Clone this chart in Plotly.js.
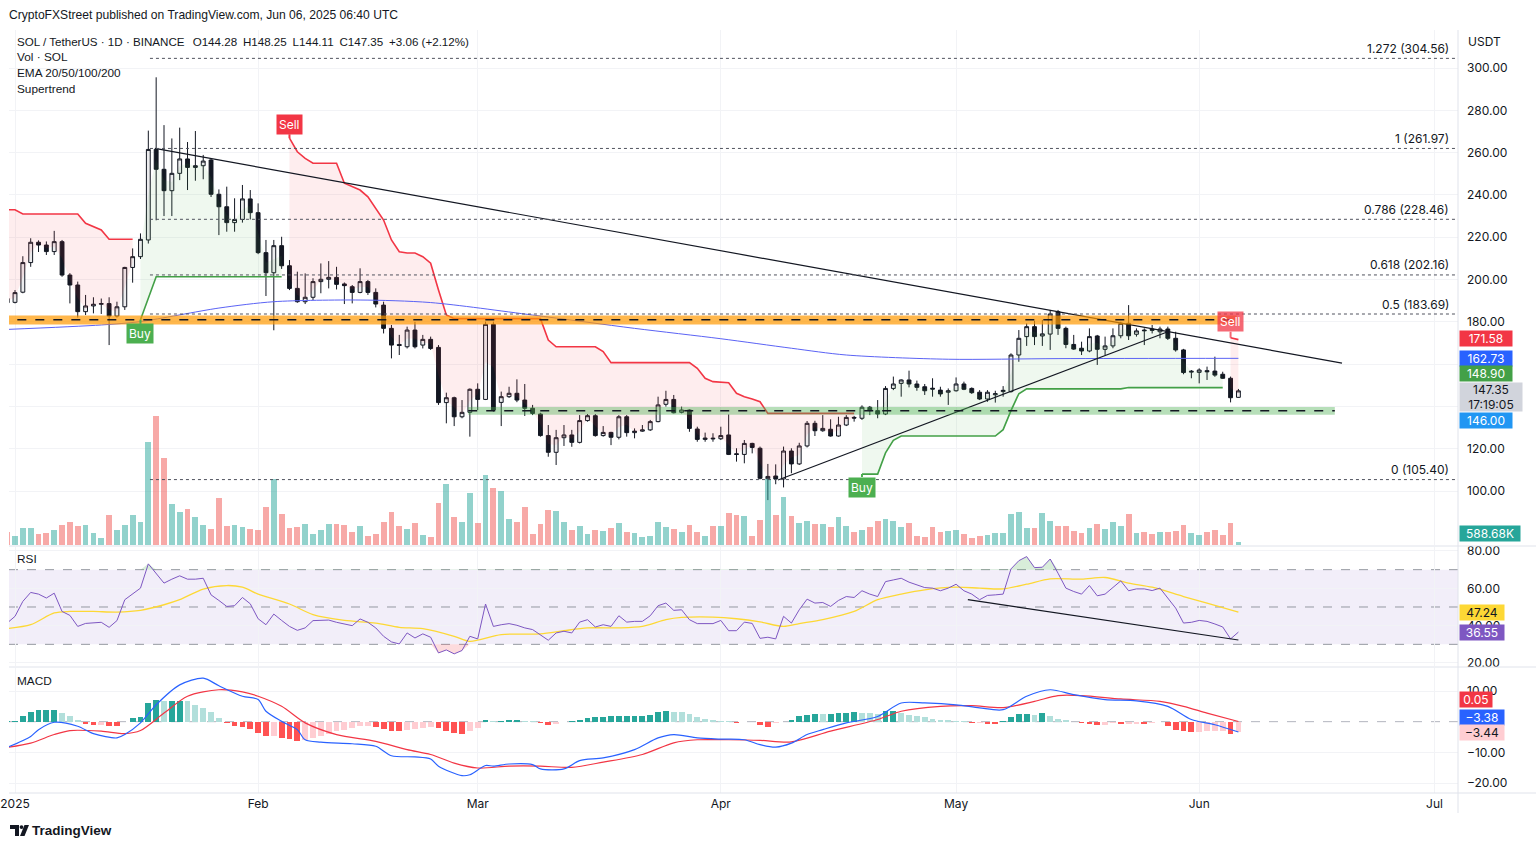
<!DOCTYPE html>
<html><head><meta charset="utf-8">
<script src="https://cdn.plot.ly/plotly-3.0.1.min.js"></script>
<style>html,body{margin:0;padding:0;background:#fff;}#chart{width:1536px;height:847px;}</style>
</head><body><div id="chart"></div>
<script>
const _ = null;
const startDate = '2024-12-31';
const openP = [191,189.2,194,208,217.6,216.3,213.2,217.9,202.1,197.4,
184.8,187.5,188.3,188.6,182.7,187.1,205.7,210.8,218.7,261.5,
252.1,242,250.2,257,253,253.8,256.5,240.3,234.4,226.9,
228.4,238.1,231.6,212.7,203.2,216,206.5,195.8,189.5,191.6,
199,200.1,201,197.9,196.6,193.9,199,193.9,187.9,176.9,
169.3,168.2,176.1,169,171.7,167.9,141.8,144.1,135.1,137.2,
148.1,143.3,178.8,141.9,144.6,146.2,143,139.1,136.4,126.2,
118.3,125.2,126.5,123,133.3,135.6,126.2,127.7,125.4,135.1,
127.6,128.3,128.9,132.8,141,143.3,137.2,138.3,129.3,124.4,
125,124.7,126.5,117.6,117.3,122.5,120.2,105.8,107.1,105.7,
118.9,112.8,121.3,132,128.5,129.2,126,131.2,134.8,134.4,
139.6,138,136.4,148.5,150.9,152.5,150.6,149.3,148.6,147.7,
146.7,147.4,150.6,148.5,146.7,143.5,145.5,147,147,164.3,
173,177.7,173.3,174.2,184.8,176.9,169.3,167.5,166.2,173.3,
167,168.6,173.4,179.3,174.1,176.1,176.6,175.3,176.6,172.2,
166.7,156.2,156.1,156.9,156.7,155.2,153.3,144.28];
const highP = [192.5,195,211,219.5,218.5,218,223,218.7,203,199,
192.7,191.6,191,191.6,189.5,206,214.7,221.8,270.4,295.6,
273,266.7,271.8,265,270.2,258.9,257.3,242.6,243.9,238.4,
244.7,242.3,236,218.7,218.7,220.2,209.2,203.7,202.9,200.6,
207.6,208.7,206,198.6,197.4,205.3,199.8,195.8,189.5,178.5,
173.8,177.7,180,173.8,173,169,146.5,144.6,143,148.5,
150.9,180.1,180.1,147,149.3,152.8,150.6,140.7,137,131.2,
128.9,131.2,128.9,135.9,136.4,136.4,130.7,128,135.9,135.9,
129.6,131.2,133.6,144.6,147.4,145.4,139.9,138.6,130.4,127.6,
127.3,130.4,136.2,120.2,124.1,122.8,121,112.8,112.6,121,
120.2,122.8,133.1,133.2,135.9,133.9,135.1,135.9,135.5,140.5,
140.2,143,149.6,154.1,152.8,156.9,152.2,150.6,153.3,149.3,
148.5,153.7,151.7,149,147.7,147.7,147.4,149.6,165.1,176.1,
179.3,180.5,180.9,185.6,185.6,177.7,173.8,170.6,176.9,173.8,
173,176.9,180,187.9,176.9,176.9,178.5,177.7,177.7,175.3,
167.2,157.2,158,158.8,163.5,156.4,154.1,148.25];
const lowP = [188,188.7,193.5,206,213,211.6,211.6,201.3,188.7,182,
183.2,184,183.7,169,182,185.6,198.5,209.7,217,228,
230,230,247,242.3,246.7,247.4,239,221,222.6,222.6,
226.9,228.4,212,192.2,176,205,195,189,188.4,190.3,
193.5,195.8,195.3,188.4,188.7,193.5,192.7,186.8,174.5,162.7,
164.3,167.4,167.4,167.4,166.7,140.7,132,130.7,134.4,125.7,
138.3,143,137.5,130.7,144,142,135.5,135.9,125.7,116.2,
112.3,121.3,120.9,122.5,132.8,125.7,125.7,121.7,124.4,125.7,
124.9,128,128.4,132.5,139.9,136.7,136.7,128,123.3,123.3,
123.3,124.1,117,113.9,113.1,117.8,105.5,95.7,103.2,101.7,
108.4,112.3,120.6,126,128,125.7,125.7,130.7,132.8,133.6,
135.9,134.4,135.9,147.7,144.6,149,147.4,145.4,144.6,144.6,
140.7,147,147.7,145.9,143,142.2,141.8,144.6,146.5,161.1,
168.6,169,168.6,166.7,173.8,167.5,166.7,164.3,165.6,159.6,
164.3,167.5,172.2,171.4,173,169,174.5,172.2,171.4,165.9,
155.2,153.3,150.9,152.5,154,153,141.9,144.11];
const closeP = [189,193.8,208,217.6,216.3,213.2,217.9,202.1,197.4,184.8,
187.5,188.3,188.6,182.7,187.1,205.7,210.8,219,261.5,252.1,
242,250.2,257,253,253.8,256,240.3,234.4,226.9,228.4,
238.1,231.6,212.7,203.2,216,206.5,195.8,189.5,191.6,199,
200.1,201,197.7,197.1,193.9,199,193.9,188.4,176.9,169,
168.8,176.1,168.2,171.7,167.4,141.8,144.1,135.1,137.2,148.1,
143.3,178.8,138.3,144.6,146.2,143,139.1,136.7,126.2,118.3,
125.2,126.5,123,133.3,135.6,126.2,127.7,125.4,135.1,127.6,
128.3,128.9,132.8,140.7,143.3,137,138.3,129.6,124.4,125,
124.7,126.2,117.3,117.3,122.5,120.6,106,106.9,105.7,118.9,
112.8,121.3,132,128.5,129.6,126,131.2,134.8,134.5,139.6,
138,136.4,148.5,150.6,152.5,150.6,149,147.4,148.2,145.9,
147.4,150.6,148.1,146.5,143.5,146.7,146,147.6,164.3,172.2,
177.7,173,174.3,183.7,176.9,169.3,167.1,166.2,173,167,
168.6,173.4,179.3,173.4,175.7,175.8,176,176.6,172.2,166.7,
156,156.6,157.2,156.4,154.8,153.3,144.1,147.35];
// volume in millions of SOL
const volumeM = [2.37,1.66,3.08,3.08,1.90,2.08,2.72,3.56,4.15,3.44,
3.51,2.19,1.30,5.34,2.67,3.56,5.34,4.15,18.39,23.02,
15.54,7.35,5.82,6.35,4.93,3.51,2.90,8.31,3.33,3.61,
3.15,2.85,2.72,6.76,11.75,5.57,2.97,3.20,3.74,1.90,
2.67,3.79,3.74,3.61,2.31,3.44,1.66,1.96,4.09,5.93,
3.33,2.85,3.92,1.78,1.48,7.48,10.91,4.98,4.09,9.31,
3.92,12.41,10.20,9.61,4.63,4.15,6.76,2.01,3.68,6.23,
6.05,4.15,2.72,3.38,1.90,2.67,2.55,3.08,3.92,2.37,
2.19,1.37,1.66,4.15,3.26,2.85,2.26,3.61,2.37,1.66,
3.44,3.33,5.75,5.39,5.22,1.66,4.50,11.75,5.34,8.49,
5.11,3.97,4.22,3.74,3.79,3.15,4.93,3.44,2.37,2.62,
3.20,4.27,4.63,4.33,3.20,3.86,1.66,1.42,3.26,2.26,
2.55,2.72,2.01,1.25,1.55,1.83,2.19,2.19,5.57,5.82,
3.03,2.97,5.75,4.22,3.33,3.33,2.49,2.08,2.97,3.74,
2.85,4.04,3.33,5.57,2.08,2.26,2.01,2.37,2.37,2.44,
3.51,2.19,1.83,2.26,2.62,1.83,3.86,0.59];
const stUp = [_,_,_,_,_,_,_,_,_,_,_,_,_,_,_,_,_,181,191,
201.3,201.3,201.3,201.3,201.3,201.3,201.3,201.3,201.3,201.3,201.3,201.3,201.3,201.3,201.3,201.3,201.3,
_,_,_,_,_,_,_,_,_,_,_,_,_,_,_,_,_,_,_,_,_,_,_,_,_,_,_,_,_,_,_,_,_,_,_,_,_,_,_,_,_,_,_,_,_,_,_,_,_,_,_,_,_,_,_,_,_,_,_,_,_,_,_,_,_,_,_,_,_,_,_,_,_,
108,108,108,118,124,
126,126,126,126,126,126,126,126,126,126,126,126,126,
129,138,146,
148.3,148.3,148.3,148.3,148.3,148.3,148.3,148.3,148.3,148.3,148.3,148.3,148.3,
148.9,148.9,148.9,148.9,148.9,148.9,148.9,148.9,148.9,148.9,148.9,148.9,148.9,
_,_];
const stDown = [233,233,231,231,231,231,231,231,231,231,226.6,225,223.4,219,219,219,219,
_,_,_,_,_,_,_,_,_,_,_,_,_,_,_,_,_,_,_,
266.8,260.4,257.3,255,255,255,255,245.5,244,242.3,239.1,233.5,228.1,218.7,213.1,212.5,212.5,210.8,207.7,195,183.2,
181.5,181.5,181.5,181.5,181.5,181.5,181.5,181.5,181.5,181.5,181.5,181.5,
171.4,168.2,168.2,168.2,168.2,168.2,168.2,165.9,
160.7,160.7,160.7,160.7,160.7,160.7,160.7,160.7,160.7,160.7,160.7,
158,153.3,151.7,151.5,151.2,146.2,144.6,143.5,142.2,
136.7,136.7,136.7,136.7,136.7,136.7,136.7,136.7,136.7,136.7,136.7,136.7,
_,_,_,_,_,_,_,_,_,_,_,_,_,_,_,_,_,_,_,_,_,_,_,_,_,_,_,_,_,_,_,_,_,_,_,_,_,_,_,_,_,_,_,_,_,_,_,
172.5,171.58];
const emaDates = ['2024-12-31','2025-01-12','2025-01-17','2025-01-27','2025-02-03','2025-02-14','2025-02-23','2025-03-08','2025-03-21','2025-04-01','2025-04-10','2025-04-17','2025-04-30','2025-05-14','2025-06-06'];
const emaValues = [176.4,178.5,180.1,186.5,189.5,190.3,189.1,183.2,176.9,172.0,167.5,164.3,162.3,162.6,162.73];
const fibRatios = ['1.272','1','0.786','0.618','0.5','0'];
const fibPrices = [304.56,261.97,228.46,202.16,183.69,105.40];
const fibStart = '2025-01-18 05:00';
const resistZone = [178.7,183.0,181.0];   // low, high, dashed mid
const resistSpan = ['2024-12-30','2025-06-05 19:00'];
const supportZone = [136.0,139.7,137.9];
const supportSpan = ['2025-02-27 19:00','2025-06-18 07:00'];
const downTrendDates = ['2025-01-18 20:00','2025-06-19 05:00'];
const downTrendPrices = [262,160.5];
const upTrendDates = ['2025-04-08 07:00','2025-05-27 22:00'];
const upTrendPrices = [105.2,175.2];
const rsi = [41.4,45,53,57.8,56.9,54.8,57.4,47.6,45.5,39.6,
41.2,41.6,41.8,39.1,42.7,53.9,56.9,60.1,73.1,68.1,
62.8,64.9,66.7,64.9,64.9,65.4,56.5,53.5,50.3,50.7,
55.1,51.7,43.7,40.5,46.2,42.8,39.6,37.5,38.8,42.7,
43,43,41.8,41.1,40,43.6,41.8,38.8,34.3,31.3,
30.2,36.1,33.4,35.6,33.8,25.4,27,24.9,26.7,34.3,
32.9,51.6,39.6,40.5,41.1,40.2,38.8,37.9,35.2,32.2,
36.1,37,36.1,41.9,43.2,39.3,40.5,39.6,45.3,41.9,
42.3,42.3,45.3,50.7,52.1,48.2,48.5,43.2,41.1,41.1,
41.1,42.8,37.3,37.3,41.9,41.2,33.2,33.8,32.9,45,
41.4,48.5,54.2,52.1,52.4,50.3,53.5,55.6,55.1,58.7,
56.9,55.6,63.6,64.5,65.4,63.3,61.9,60.4,60.1,58.7,
60.1,62.2,58.7,56.9,53.9,56.2,56.5,56.9,70.4,74.8,
77,71.1,71.3,75.7,68.1,60.1,58.3,56.9,61.5,56,
56.9,60.4,64,58.7,59.7,59.7,58.8,60.1,54.8,49.4,
41.4,41.8,42.8,42.3,40.9,39.3,32.9,36.55];
const rsiMaDates = ['2024-12-31','2025-01-03','2025-01-06','2025-01-08','2025-01-11','2025-01-14','2025-01-17','2025-01-20','2025-01-22','2025-01-25','2025-01-28','2025-01-30','2025-02-01','2025-02-05','2025-02-08','2025-02-12','2025-02-16','2025-02-19','2025-02-22','2025-02-26','2025-02-28','2025-03-04','2025-03-09','2025-03-12','2025-03-15','2025-03-19','2025-03-22','2025-03-25','2025-03-27','2025-03-31','2025-04-03','2025-04-06','2025-04-09','2025-04-11','2025-04-14','2025-04-18','2025-04-21','2025-04-24','2025-04-27','2025-05-01','2025-05-04','2025-05-07','2025-05-10','2025-05-13','2025-05-17','2025-05-20','2025-05-23','2025-05-26','2025-05-30','2025-06-02','2025-06-06'];
const rsiMaValues = [38.4,40.5,46.8,47.6,47.6,47.3,48.2,51.2,53.9,59.6,61.5,60.6,56.9,51.6,45.9,42.8,41.4,39.1,38.4,34.3,31.6,35.2,35.6,37.3,38.8,38.8,39.6,43.2,44.4,44.6,43.7,42.0,39.6,41.1,43.2,47.6,53.9,56.9,59.2,60.6,60.1,59.7,62.2,65.1,64.9,65.8,62.8,60.6,55.6,52.1,47.24];
const rsiTrendDates = ['2025-05-02 12:00','2025-06-06 00:00'];
const rsiTrendValues = [53.9,32.3];
const macdDates = ['2024-12-31','2025-01-03','2025-01-04','2025-01-06','2025-01-09','2025-01-11','2025-01-14','2025-01-15','2025-01-17','2025-01-19','2025-01-22','2025-01-25','2025-01-27','2025-01-30','2025-02-01','2025-02-02','2025-02-04','2025-02-06','2025-02-07','2025-02-09','2025-02-13','2025-02-16','2025-02-18','2025-02-21','2025-02-23','2025-02-24','2025-02-27','2025-02-28','2025-03-02','2025-03-03','2025-03-05','2025-03-08','2025-03-09','2025-03-12','2025-03-14','2025-03-17','2025-03-21','2025-03-24','2025-03-26','2025-03-29','2025-04-01','2025-04-04','2025-04-06','2025-04-08','2025-04-10','2025-04-12','2025-04-14','2025-04-17','2025-04-21','2025-04-24','2025-04-27','2025-05-01','2025-05-04','2025-05-07','2025-05-10','2025-05-13','2025-05-16','2025-05-20','2025-05-24','2025-05-28','2025-05-31','2025-06-03','2025-06-06'];
const macdValues = [-8.4,-4.8,-2.6,-0.2,-1.5,-3.9,-5.3,-4.2,-0.4,5.5,12.0,14.2,11.7,8.3,7.2,3.4,0.1,-2.6,-5.9,-6.7,-7.2,-8.0,-11.1,-11.5,-12.2,-14.5,-17.6,-17.3,-14.3,-14.5,-13.8,-14.0,-15.4,-15.4,-12.7,-11.8,-9.1,-5.3,-4.2,-5.3,-5.7,-5.9,-7.5,-8.3,-7.0,-4.2,-2.6,-0.4,1.7,6.1,6.1,5.5,4.5,3.9,8.3,10.4,8.8,7.2,6.8,5.0,0.7,-1.0,-3.38];
const signalDates = ['2024-12-31','2025-01-03','2025-01-06','2025-01-08','2025-01-12','2025-01-15','2025-01-17','2025-01-20','2025-01-23','2025-01-27','2025-01-30','2025-02-01','2025-02-04','2025-02-07','2025-02-11','2025-02-16','2025-02-20','2025-02-23','2025-02-26','2025-03-01','2025-03-05','2025-03-09','2025-03-13','2025-03-17','2025-03-22','2025-03-26','2025-03-29','2025-04-02','2025-04-06','2025-04-10','2025-04-15','2025-04-21','2025-04-24','2025-04-29','2025-05-03','2025-05-07','2025-05-11','2025-05-14','2025-05-17','2025-05-22','2025-05-27','2025-05-30','2025-06-02','2025-06-06'];
const signalValues = [-8.4,-7.0,-4.2,-2.9,-3.1,-3.9,-2.9,2.8,8.3,10.4,9.7,8.3,5.0,-0.4,-4.2,-6.4,-9.1,-10.7,-13.5,-15.1,-14.5,-14.5,-14.9,-13.2,-10.7,-6.9,-5.9,-5.9,-6.1,-6.6,-3.1,0.7,3.4,5.0,5.2,4.6,6.6,8.5,8.5,7.4,6.6,5.0,2.8,0.05];
const macdHist = [0.1,0.3,1.7,3.0,3.7,3.9,3.9,2.8,1.7,0.4,
-0.7,-1.1,-1.1,-1.3,-1.5,-0.1,1.2,1.5,6.1,7.2,
6.9,6.9,6.9,6.6,5.5,4.5,3.0,1.2,-0.4,-1.5,
-1.7,-2.4,-3.7,-4.8,-4.8,-5.3,-5.6,-6.4,-6.1,-5.3,
-4.6,-3.9,-3.1,-2.6,-2.1,-1.5,-1.5,-1.7,-2.4,-2.9,
-3.1,-2.6,-2.4,-2.1,-1.8,-2.1,-3.1,-3.7,-3.9,-3.1,
-2.1,0.7,0.1,0.3,0.7,0.7,0.3,0.1,-0.4,-1.0,
-0.7,-0.2,0.1,0.7,1.2,1.4,1.4,1.7,2.0,2.0,
2.0,2.0,2.3,3.0,3.6,3.1,3.0,2.5,1.5,1.0,
0.7,0.3,0.1,-0.4,-0.2,-0.2,-1.0,-1.7,-0.4,-0.2,
0.7,1.7,2.3,2.5,2.4,2.6,2.8,2.8,3.0,2.9,
2.7,2.6,3.4,3.4,2.8,2.3,1.7,1.4,0.9,0.7,
0.4,0.2,0.1,-0.4,-0.4,-0.7,-0.8,0.1,1.4,2.5,
2.5,2.3,2.8,1.7,0.9,0.4,-0.2,-0.4,-0.7,-1.0,
-1.0,-0.4,-0.7,-0.7,-0.7,-0.8,-0.4,-0.2,-1.3,-2.6,
-3.1,-3.5,-3.5,-3.2,-3.1,-3.0,-3.9,-3.44];
const priceTicks = [100,120,140,160,180,200,220,240,260,280,300];
const hiddenPriceTicks = [140,160];   // covered by the price tags in the reference
const rsiTicks = [20,40,60,80];
const macdTicks = [-20,-10,10];
const monthTicks = ['2025-01-01','2025-02-01','2025-03-01','2025-04-01','2025-05-01','2025-06-01','2025-07-01'];
const monthLabels = ['2025','Feb','Mar','Apr','May','Jun','Jul'];

// ---------- build ----------
function dateAt(i){const d=new Date(Date.UTC(2024,11,31));d.setUTCDate(d.getUTCDate()+i);return d.toISOString().slice(0,10);}
const dates = openP.map((v,i)=>dateAt(i));
const bodyMid = openP.map((o,i)=>(o+closeP[i])/2);
const upDay = closeP.map((c,i)=>c>=openP[i]);
const FONT = 'Inter, "Noto Sans", Roboto, sans-serif';
const TFONT = '"Liberation Sans", Arial, sans-serif';
const INK = '#131722';
const traces = [];

function segments(arr){const segs=[];let cur=null;arr.forEach((v,i)=>{if(v===null){cur=null;}else{if(!cur){cur=[];segs.push(cur);}cur.push(i);}});return segs;}
function stTraces(arr,lineColor,fillColor){
  segments(arr).forEach(seg=>{
    traces.push({type:'scatter',mode:'lines',x:seg.map(i=>dates[i]),y:seg.map(i=>bodyMid[i]),line:{width:0},hoverinfo:'skip',xaxis:'x',yaxis:'y'});
    traces.push({type:'scatter',mode:'lines',x:seg.map(i=>dates[i]),y:seg.map(i=>arr[i]),line:{color:lineColor,width:1.6},fill:'tonexty',fillcolor:fillColor,hoverinfo:'skip',xaxis:'x',yaxis:'y'});
  });
}
stTraces(stDown,'#f23645','rgba(242,54,69,0.09)');
stTraces(stUp,'#43a047','rgba(76,175,80,0.09)');

traces.push({type:'candlestick',x:dates,open:openP,high:highP,low:lowP,close:closeP,xaxis:'x',yaxis:'y',
  increasing:{line:{color:INK,width:1},fillcolor:'#ececee'},
  decreasing:{line:{color:INK,width:1},fillcolor:INK},whiskerwidth:0,hoverinfo:'skip'});

traces.push({type:'scatter',mode:'lines',x:emaDates,y:emaValues,line:{color:'#5b63f5',width:1,shape:'spline',smoothing:0.8},xaxis:'x',yaxis:'y',hoverinfo:'skip'});
traces.push({type:'scatter',mode:'lines',x:downTrendDates,y:downTrendPrices,line:{color:INK,width:1.2},xaxis:'x',yaxis:'y',hoverinfo:'skip'});
traces.push({type:'scatter',mode:'lines',x:upTrendDates,y:upTrendPrices,line:{color:INK,width:1.2},xaxis:'x',yaxis:'y',hoverinfo:'skip'});

traces.push({type:'bar',x:dates,y:volumeM,xaxis:'x',yaxis:'y4',width:0.74*86400000,
  marker:{color:upDay.map(u=>u?'rgba(38,166,154,0.5)':'rgba(239,83,80,0.5)'),line:{width:0}},hoverinfo:'skip'});

// RSI
traces.push({type:'scatter',mode:'lines',x:dates,y:rsi.map(()=>70),line:{width:0},xaxis:'x',yaxis:'y2',hoverinfo:'skip'});
traces.push({type:'scatter',mode:'lines',x:dates,y:rsi.map(v=>Math.max(v,70)),line:{width:0},fill:'tonexty',fillcolor:'rgba(76,175,80,0.22)',xaxis:'x',yaxis:'y2',hoverinfo:'skip'});
traces.push({type:'scatter',mode:'lines',x:dates,y:rsi.map(()=>30),line:{width:0},xaxis:'x',yaxis:'y2',hoverinfo:'skip'});
traces.push({type:'scatter',mode:'lines',x:dates,y:rsi.map(v=>Math.min(v,30)),line:{width:0},fill:'tonexty',fillcolor:'rgba(242,54,69,0.18)',xaxis:'x',yaxis:'y2',hoverinfo:'skip'});
traces.push({type:'scatter',mode:'lines',x:rsiMaDates,y:rsiMaValues,line:{color:'#fdd835',width:1.3,shape:'spline',smoothing:0.8},xaxis:'x',yaxis:'y2',hoverinfo:'skip'});
traces.push({type:'scatter',mode:'lines',x:dates,y:rsi,line:{color:'#7e57c2',width:1},xaxis:'x',yaxis:'y2',hoverinfo:'skip'});
traces.push({type:'scatter',mode:'lines',x:rsiTrendDates,y:rsiTrendValues,line:{color:INK,width:1.2},xaxis:'x',yaxis:'y2',hoverinfo:'skip'});

// MACD
const histColors = macdHist.map((v,i)=>{const p=i>0?macdHist[i-1]:v;return v>=0?(v>=p?'#26a69a':'#b2dfdb'):(v<p?'#ff5252':'#ffcdd2');});
traces.push({type:'bar',x:dates,y:macdHist,xaxis:'x',yaxis:'y3',width:0.74*86400000,marker:{color:histColors,line:{width:0}},hoverinfo:'skip'});
traces.push({type:'scatter',mode:'lines',x:signalDates,y:signalValues,line:{color:'#f23645',width:1.2,shape:'spline',smoothing:0.8},xaxis:'x',yaxis:'y3',hoverinfo:'skip'});
traces.push({type:'scatter',mode:'lines',x:macdDates,y:macdValues,line:{color:'#2962ff',width:1.2,shape:'spline',smoothing:0.8},xaxis:'x',yaxis:'y3',hoverinfo:'skip'});

// ---------- layout helpers ----------
const PL=9,PT=30,PW=1449,PH=763;
const px=x=>(x-PL)/PW, py=y=>(PT+PH-y)/PH;
const shapes=[];
const anns=[];
// zones
shapes.push({type:'rect',xref:'x',yref:'y',x0:resistSpan[0],x1:resistSpan[1],y0:resistZone[0],y1:resistZone[1],fillcolor:'rgba(255,152,0,0.7)',line:{width:0},layer:'above'});
shapes.push({type:'line',xref:'x',yref:'y',x0:resistSpan[0],x1:resistSpan[1],y0:resistZone[2],y1:resistZone[2],line:{color:INK,width:1.5,dash:'dash'},layer:'above'});
shapes.push({type:'rect',xref:'x',yref:'y',x0:supportSpan[0],x1:supportSpan[1],y0:supportZone[0],y1:supportZone[1],fillcolor:'rgba(76,175,80,0.4)',line:{width:0},layer:'above'});
shapes.push({type:'line',xref:'x',yref:'y',x0:supportSpan[0],x1:supportSpan[1],y0:supportZone[2],y1:supportZone[2],line:{color:INK,width:1.5,dash:'dash'},layer:'above'});
// fib levels
fibPrices.forEach((p,i)=>{
  shapes.push({type:'line',xref:'x',yref:'y',x0:fibStart,x1:'2025-07-10',y0:p,y1:p,line:{color:'#50535e',width:1,dash:'dot'},layer:'above'});
  anns.push({xref:'paper',yref:'y',x:px(1451),y:p,yshift:10,xanchor:'right',yanchor:'middle',showarrow:false,text:fibRatios[i]+' ('+p.toFixed(2)+')',font:{family:FONT,size:12,color:INK}});
});
// RSI guides
shapes.push({type:'rect',xref:'x domain',yref:'y2',x0:0,x1:1,y0:30,y1:70,fillcolor:'rgba(126,87,194,0.1)',line:{width:0},layer:'below'});
[70,50,30].forEach(v=>shapes.push({type:'line',xref:'x domain',yref:'y2',x0:0,x1:1,y0:v,y1:v,line:{color:'#9598a1',width:1,dash:'dash'},layer:'below'}));
shapes.push({type:'line',xref:'x domain',yref:'y3',x0:0,x1:1,y0:0,y1:0,line:{color:'#b2b5be',width:1,dash:'dash'},layer:'below'});
// pane separators
[546,667,793].forEach(y=>shapes.push({type:'line',xref:'paper',yref:'paper',x0:0,x1:px(1536),y0:py(y),y1:py(y),line:{color:'#e0e3eb',width:1}}));
shapes.push({type:'line',xref:'paper',yref:'paper',x0:1,x1:1,y0:py(30),y1:py(813),line:{color:'#e0e3eb',width:1}});
// TradingView logo
shapes.push({type:'path',xref:'paper',yref:'paper',path:`M${px(10)},${py(825)} L${px(19)},${py(825)} L${px(19)},${py(836)} L${px(15)},${py(836)} L${px(15)},${py(829)} L${px(10)},${py(829)} Z`,fillcolor:INK,line:{width:0}});
shapes.push({type:'circle',xref:'paper',yref:'paper',x0:px(19.6),x1:px(23.4),y0:py(829),y1:py(825.2),fillcolor:INK,line:{width:0}});
shapes.push({type:'path',xref:'paper',yref:'paper',path:`M${px(24.5)},${py(825)} L${px(29)},${py(825)} L${px(24.5)},${py(836)} L${px(20)},${py(836)} Z`,fillcolor:INK,line:{width:0}});

function txt(t,x,y,o){return Object.assign({xref:'paper',yref:'paper',x:px(x),y:py(y),text:t,showarrow:false,xanchor:'left',yanchor:'middle',font:{family:TFONT,size:11.8,color:INK}},o||{});}
anns.push(txt('CryptoFXStreet published on TradingView.com, Jun 06, 2025 06:40 UTC',7,15,{font:{family:TFONT,size:12.1,color:INK}}));
anns.push(txt('SOL / TetherUS · 1D · BINANCE\u2002\u2009O144.28\u2002H148.25\u2002L144.11\u2002C147.35\u2002+3.06 (+2.12%)',15,41,{font:{family:TFONT,size:11.6,color:INK}}));
anns.push(txt('Vol · SOL',15,57));
anns.push(txt('EMA 20/50/100/200',15,73));
anns.push(txt('Supertrend',15,89));
anns.push(txt('RSI',15,559));
anns.push(txt('MACD',15,681));
anns.push(txt('<b>TradingView</b>',30,830,{font:{family:TFONT,size:13.5,color:INK}}));
anns.push(txt('USDT',1466,41,{font:{family:FONT,size:12,color:INK}}));

// Buy / Sell markers
function sig(idx,arr,text,color,ay){return {xref:'x',yref:'y',x:dates[idx],y:arr[idx],text:text,showarrow:true,arrowhead:0,arrowwidth:2,arrowcolor:color,ax:0,ay:ay,bgcolor:color,borderpad:2,font:{family:FONT,size:12,color:'#ffffff'}};}
anns.push(sig(17,stUp,'Buy','#4caf50',14));
anns.push(sig(36,stDown,'Sell','#f23645',-14));
anns.push(sig(109,stUp,'Buy','#4caf50',13));
anns.push(sig(156,stDown,'Sell','rgba(242,54,69,0.75)',-16));

// price-scale labels
function tag(text,yref,y,bg,fg,w,h,shift){return {xref:'paper',x:px(1459),xanchor:'left',yref:yref,y:y,yanchor:'middle',yshift:shift||0,text:text,showarrow:false,bgcolor:bg,width:w,height:h,align:'center',valign:'middle',borderpad:0,font:{family:FONT,size:12,color:fg}};}
anns.push(tag(stDown[157].toFixed(2),'y',stDown[157],'#f23645','#fff',52,15,1));
anns.push(tag(emaValues[emaValues.length-1].toFixed(2),'y',emaValues[emaValues.length-1],'#2962ff','#fff',52,15,0));
anns.push(tag('148.90','y',148.9,'#43a047','#fff',52,15,14));
anns.push(tag(closeP[157].toFixed(2)+'<br>17:19:05','y',closeP[157],'#d1d4dc',INK,62,28,-6));
anns.push(tag('146.00','y',146.0,'#2196f3','#fff',52,15,-27));
anns.push(tag('588.68K','y4',volumeM[157],'#26a69a','#fff',60,15,8));
anns.push(tag('47.24','y2',47.24,'#fdd835',INK,44,15,0));
anns.push(tag(rsi[157].toFixed(2),'y2',rsi[157],'#7e57c2','#fff',44,15,0));
anns.push(tag('0.05','y3',0.05,'#f23645','#fff',32,15,22));
anns.push(tag('\u22123.38','y3',-3.38,'#2962ff','#fff',44,15,15));
anns.push(tag('\u22123.44','y3',-3.44,'#ffcdd2',INK,44,15,0));

const fmt=v=>(v<0?'\u2212':'')+Math.abs(v).toFixed(2);
const yCommon={side:'right',ticks:'',showline:false,zeroline:false,gridcolor:'#f2f3f6',tickfont:{family:FONT,size:12,color:INK},ticklabelstandoff:8,fixedrange:true};
const layout={
  width:1536,height:847,margin:{l:PL,r:1536-PL-PW,t:PT,b:847-PT-PH},
  paper_bgcolor:'#ffffff',plot_bgcolor:'#ffffff',showlegend:false,bargap:0,
  font:{family:FONT,size:12,color:INK},
  xaxis:{type:'date',range:['2024-12-31 05:38','2025-07-04 00:00'],anchor:'y3',tickvals:monthTicks,ticktext:monthLabels,ticks:'',showline:false,zeroline:false,showgrid:true,gridcolor:'#f2f3f6',tickfont:{family:FONT,size:12,color:INK},rangeslider:{visible:false},ticklabelstandoff:2,fixedrange:true},
  yaxis:Object.assign({},yCommon,{domain:[py(545),1],range:[74.47,317.97],tickvals:priceTicks,ticktext:priceTicks.map(v=>hiddenPriceTicks.includes(v)?'':fmt(v))}),
  yaxis2:Object.assign({},yCommon,{domain:[py(666),py(547)],range:[18.39,82.14],tickvals:rsiTicks,ticktext:rsiTicks.map(fmt)}),
  yaxis3:Object.assign({},yCommon,{domain:[0,py(668)],range:[-23.26,17.5],tickvals:macdTicks,ticktext:macdTicks.map(fmt)}),
  yaxis4:{overlaying:'y',range:[0,91.7],visible:false,fixedrange:true},
  shapes:shapes,annotations:anns
};
Plotly.newPlot('chart',traces,layout,{displayModeBar:false,staticPlot:true});
</script></body></html>
